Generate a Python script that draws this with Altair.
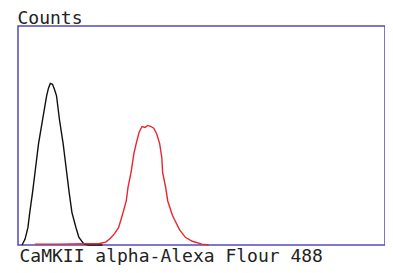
import altair as alt
import pandas as pd

# Control (black) histogram
black_x = [11, 19, 27, 32, 40, 48, 56, 67, 78, 83, 88, 94, 99, 105, 113, 123, 131, 139, 147, 158, 166, 180, 193, 230]
black_y = [0, 2.6, 7.9, 14.8, 24.5, 35.4, 46.3, 57.2, 68.1, 71.6, 73.8, 73.4, 71.2, 68.1, 57.2, 46.3, 35.4, 24.5, 14.8, 7.9, 3.5, 0.4, 0, 0]

# Sample (red) histogram
red_x = [46, 113, 180, 220, 228, 239, 252, 263, 274, 284, 295, 300, 308, 316, 322, 330, 338, 346, 354, 362, 370, 378, 386, 392, 394, 402, 408, 421, 440, 456, 475, 501, 520]
red_y = [0.4, 0.4, 0.6, 0.6, 0.9, 1.3, 3.1, 5.2, 7.9, 13.5, 20.1, 26.6, 33.2, 41.9, 46.3, 51.5, 54.1, 53.7, 54.6, 54.1, 53.3, 50.7, 46.3, 39.7, 33.2, 26.6, 20.1, 13.5, 7.0, 3.5, 1.7, 0.4, 0]

series_names = ["Control", "CaMKII alpha"]
series_colors = ["#111111", "#E8262E"]

df = pd.concat([
    pd.DataFrame({"x": black_x, "y": black_y, "s": series_names[0], "o": range(len(black_x))}),
    pd.DataFrame({"x": red_x, "y": red_y, "s": series_names[1], "o": range(len(red_x))}),
])

FONT = "DejaVu Sans Mono"
FS = 18

chart = alt.Chart(df).mark_line(strokeWidth=1.4).encode(
    x=alt.X("x:Q", scale=alt.Scale(domain=[0, 1000], nice=False, zero=False),
            axis=alt.Axis(title="CaMKII alpha-Alexa Flour 488", domain=False, ticks=False,
                          labels=False, grid=False, titleFont=FONT, titleFontSize=FS,
                          titleFontWeight="normal", titleColor="#222222",
                          titleAnchor="start", titleAlign="left", titleBaseline="alphabetic",
                          titleX=1, titleY=16)),
    y=alt.Y("y:Q", scale=alt.Scale(domain=[0, 100], nice=False),
            axis=alt.Axis(title="Counts", domain=False, ticks=False, labels=False, grid=False,
                          titleFont=FONT, titleFontSize=FS, titleFontWeight="normal",
                          titleColor="#222222", titleAngle=0, titleAlign="left",
                          titleBaseline="alphabetic", titleX=-1, titleY=-3)),
    color=alt.Color("s:N", scale=alt.Scale(domain=series_names, range=series_colors), legend=None),
    order="o:Q",
).properties(
    width=367, height=219,
    background="white",
    autosize=alt.AutoSizeParams(type="none"),
    padding={"left": 10, "top": 18, "right": 0, "bottom": 20},
).configure_view(
    stroke="#5448C0", strokeWidth=1.5
)

chart.save("out.html", embed_options={"renderer": "svg", "actions": False})
